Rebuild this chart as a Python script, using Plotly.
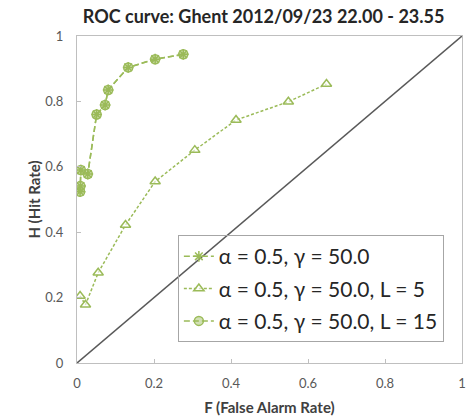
import plotly.graph_objects as go

# Data
f_top = [0.008, 0.009, 0.010, 0.028, 0.051, 0.073, 0.081, 0.133, 0.203, 0.276]
h_top = [0.524, 0.541, 0.590, 0.578, 0.760, 0.789, 0.835, 0.904, 0.929, 0.944]

f_l5 = [0.008, 0.022, 0.055, 0.126, 0.203, 0.306, 0.413, 0.549, 0.648]
h_l5 = [0.205, 0.178, 0.276, 0.422, 0.555, 0.651, 0.743, 0.799, 0.853]

diag = [0, 1]
tick_vals = [0, 0.2, 0.4, 0.6, 0.8, 1]
tick_text = ["0", "0.2", "0.4", "0.6", "0.8", "1"]

names = ["α = 0.5, γ = 50.0", "α = 0.5, γ = 50.0, L = 5", "α = 0.5, γ = 50.0, L = 15"]

green = "#9BBB59"
fill = "rgba(155,187,89,0.45)"
font_family = "Lato, 'Open Sans', sans-serif"

fig = go.Figure()

fig.add_trace(go.Scatter(x=diag, y=diag, mode="lines", showlegend=False,
                         line=dict(color="#595959", width=1.5), hoverinfo="skip"))

fig.add_trace(go.Scatter(x=f_top, y=h_top, mode="lines+markers", name=names[0], legendgroup="a",
                         line=dict(color=green, width=1.5, dash="6px,3px"),
                         marker=dict(symbol="asterisk-open", size=9, color=green,
                                     line=dict(color=green, width=1.5))))

fig.add_trace(go.Scatter(x=f_l5, y=h_l5, mode="lines+markers", name=names[1], legendgroup="b",
                         line=dict(color=green, width=1.5, dash="3px,2px"),
                         marker=dict(symbol="triangle-up", size=9, color="rgba(255,255,255,0.6)",
                                     line=dict(color=green, width=1.5))))

fig.add_trace(go.Scatter(x=f_top, y=h_top, mode="lines+markers", name=names[2], legendgroup="c",
                         line=dict(color=green, width=1.5, dash="6px,3px"),
                         marker=dict(symbol="circle", size=9, color=fill,
                                     line=dict(color=green, width=1.5))))

axis_common = dict(range=[0, 1], tickvals=tick_vals, ticktext=tick_text,
                   showgrid=False, zeroline=False, showline=True, mirror=True,
                   linecolor="#BFBFBF", linewidth=1, ticks="inside", ticklen=4,
                   tickcolor="#BFBFBF", tickfont=dict(size=13, color="#595959", family=font_family))

fig.update_layout(
    width=475, height=418,
    margin=dict(l=77, r=13, t=36, b=55, autoexpand=False),
    paper_bgcolor="white", plot_bgcolor="white",
    title=dict(text="<b>ROC curve: Ghent 2012/09/23 22.00 - 23.55</b>",
               font=dict(size=18, color="#262626", family=font_family),
               x=0.555, xanchor="center", y=0.975, yanchor="top"),
    xaxis=dict(**axis_common, ticklabelstandoff=8, automargin=False,
               title=dict(text="<b>F (False Alarm Rate)</b>", standoff=12,
                          font=dict(size=15, color="#404040", family=font_family))),
    yaxis=dict(**axis_common, ticklabelstandoff=10, automargin=False,
               title=dict(text="<b>H (Hit Rate)</b>", standoff=0,
                          font=dict(size=15, color="#404040", family=font_family))),
    legend=dict(x=0.262, y=0.391, xanchor="left", yanchor="top",
                bgcolor="rgba(0,0,0,0)", bordercolor="#A6A6A6", borderwidth=1,
                font=dict(size=21, color="#262626", family=font_family),
                itemwidth=30, tracegroupgap=2),
)

fig.write_html("out.html")
